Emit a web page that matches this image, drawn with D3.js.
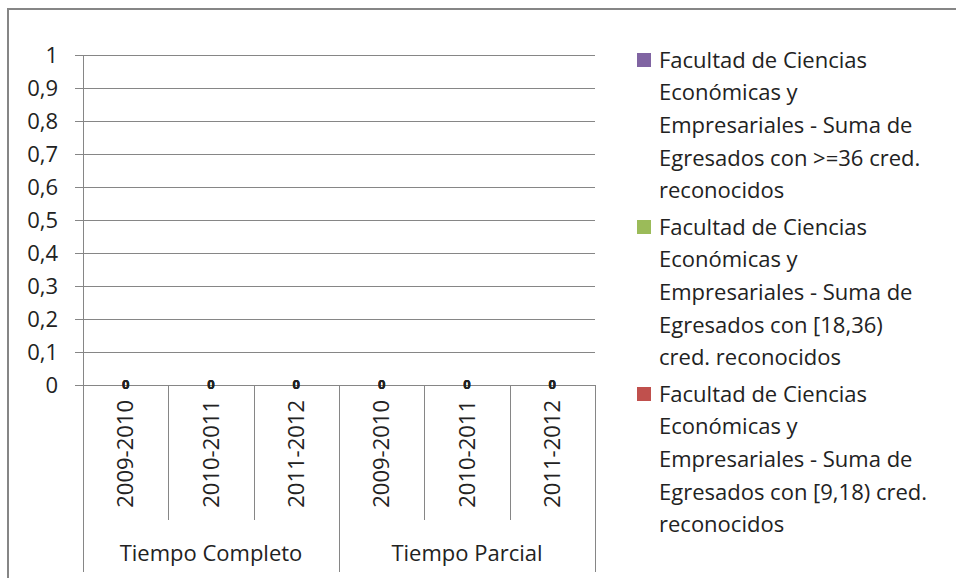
<!DOCTYPE html>
<html>
<head>
  <meta charset="utf-8">
  <title>Egresados - Facultad de Ciencias Económicas y Empresariales</title>
  <script src="https://d3js.org/d3.v7.min.js"></script>
  <style>
    body { margin: 0; background: #fff; }
    text { font-family: "Open Sans", Lato, sans-serif; fill: #222; }
  </style>
</head>
<body>
  <svg id="grafico"></svg>

  <script>
    // Datos
    const grupos = ["Tiempo Completo", "Tiempo Parcial"];
    const cursos = ["2009-2010", "2010-2011", "2011-2012"];
    const series = [
      "Facultad de Ciencias Económicas y Empresariales - Suma de Egresados con [9,18) cred. reconocidos",
      "Facultad de Ciencias Económicas y Empresariales - Suma de Egresados con [18,36) cred. reconocidos",
      "Facultad de Ciencias Económicas y Empresariales - Suma de Egresados con >=36 cred. reconocidos"
    ];
    const valores9a18 = [0, 0, 0, 0, 0, 0];
    const valores18a36 = [0, 0, 0, 0, 0, 0];
    const valoresMas36 = [0, 0, 0, 0, 0, 0];
    const colores = ["#c0504d", "#9bbb59", "#8064a2"];
    const ticksY = [0, 0.1, 0.2, 0.3, 0.4, 0.5, 0.6, 0.7, 0.8, 0.9, 1];

    // Líneas de la leyenda (orden inverso, como en Excel)
    const leyenda = [
      { color: colores[2], lineas: ["Facultad de Ciencias", "Económicas y", "Empresariales - Suma de", "Egresados con >=36 cred.", "reconocidos"] },
      { color: colores[1], lineas: ["Facultad de Ciencias", "Económicas y", "Empresariales - Suma de", "Egresados con [18,36)", "cred. reconocidos"] },
      { color: colores[0], lineas: ["Facultad de Ciencias", "Económicas y", "Empresariales - Suma de", "Egresados con [9,18) cred.", "reconocidos"] }
    ];

    // Categorías combinadas
    const categorias = [];
    grupos.forEach(g => cursos.forEach(c => categorias.push({ grupo: g, curso: c, clave: g + "|" + c })));
    const tabla = categorias.map((c, i) => ({
      clave: c.clave, s0: valores9a18[i], s1: valores18a36[i], s2: valoresMas36[i]
    }));

    const W = 956, H = 578;
    const fs = "22px";
    const svg = d3.select("#grafico").attr("width", W).attr("height", H);

    // Marco del gráfico
    svg.append("rect")
       .attr("x", 8).attr("y", 9).attr("width", 960).attr("height", 600)
       .attr("fill", "#fff").attr("stroke", "#868686").attr("stroke-width", 2);

    const x0 = 83, x1 = 595, yTop = 55, yBase = 385;
    const x = d3.scaleBand().domain(categorias.map(c => c.clave)).range([x0, x1])
                .paddingInner(0.45).paddingOuter(0.225);
    const y = d3.scaleLinear().domain([0, 1]).range([yBase, yTop]);

    // Líneas de cuadrícula
    svg.append("g").selectAll("line").data(ticksY).enter().append("line")
       .attr("x1", x0 - 8).attr("x2", x1)
       .attr("y1", d => Math.round(y(d)) + 0.5).attr("y2", d => Math.round(y(d)) + 0.5)
       .attr("stroke", "#868686").attr("stroke-width", 1);

    // Eje vertical
    svg.append("line").attr("x1", x0 + 0.5).attr("x2", x0 + 0.5)
       .attr("y1", yTop).attr("y2", yBase).attr("stroke", "#868686");

    // Etiquetas del eje Y
    svg.append("g").selectAll("text").data(ticksY).enter().append("text")
       .attr("x", 58).attr("y", d => y(d)).attr("dy", "0.35em")
       .attr("text-anchor", "end").style("font-size", fs)
       .text(d => d3.format(".1~f")(d).replace(".", ","));

    // Barras apiladas
    const pila = d3.stack().keys(["s0", "s1", "s2"])(tabla);
    svg.append("g").selectAll("g").data(pila).enter().append("g")
       .attr("fill", (d, i) => colores[i])
       .selectAll("rect").data(d => d).enter().append("rect")
       .attr("x", d => x(d.data.clave)).attr("width", x.bandwidth())
       .attr("y", d => y(d[1])).attr("height", d => y(d[0]) - y(d[1]));

    // Etiquetas de datos
    svg.append("g").selectAll("g").data(pila).enter().append("g")
       .selectAll("text").data(d => d).enter().append("text")
       .attr("x", d => x(d.data.clave) + x.bandwidth() / 2)
       .attr("y", d => y((d[0] + d[1]) / 2) - 1).attr("dy", "0.35em")
       .attr("text-anchor", "middle").style("font-size", "13px").style("font-weight", "bold")
       .text(d => d[1] - d[0]);

    // Separadores de categorías
    const paso = (x1 - x0) / categorias.length;
    const sep = d3.range(categorias.length + 1);
    svg.append("g").selectAll("line").data(sep).enter().append("line")
       .attr("x1", i => Math.round(x0 + i * paso) + 0.5).attr("x2", i => Math.round(x0 + i * paso) + 0.5)
       .attr("y1", yBase).attr("y2", i => (i % cursos.length === 0) ? 572 : 520)
       .attr("stroke", "#868686");

    // Etiquetas de cursos (rotadas)
    svg.append("g").selectAll("text").data(categorias).enter().append("text")
       .attr("transform", d => `translate(${x(d.clave) + x.bandwidth() / 2},400) rotate(-90)`)
       .attr("dy", "0.35em").attr("text-anchor", "end").style("font-size", fs)
       .text(d => d.curso);

    // Etiquetas de grupos
    svg.append("g").selectAll("text").data(grupos).enter().append("text")
       .attr("x", (d, i) => x0 + (i + 0.5) * paso * cursos.length).attr("y", 553)
       .attr("dy", "0.35em").attr("text-anchor", "middle").style("font-size", fs)
       .text(d => d);

    // Leyenda
    const ley = svg.append("g").selectAll("g").data(leyenda).enter().append("g")
       .attr("transform", (d, i) => `translate(637,${60 + i * 167})`);
    ley.append("rect").attr("x", 0).attr("y", -7).attr("width", 14).attr("height", 14)
       .attr("fill", d => d.color);
    ley.selectAll("text").data(d => d.lineas).enter().append("text")
       .attr("x", 22).attr("y", (d, i) => i * 32.6).attr("dy", "0.35em")
       .style("font-size", fs).text(d => d);
  </script>
</body>
</html>
